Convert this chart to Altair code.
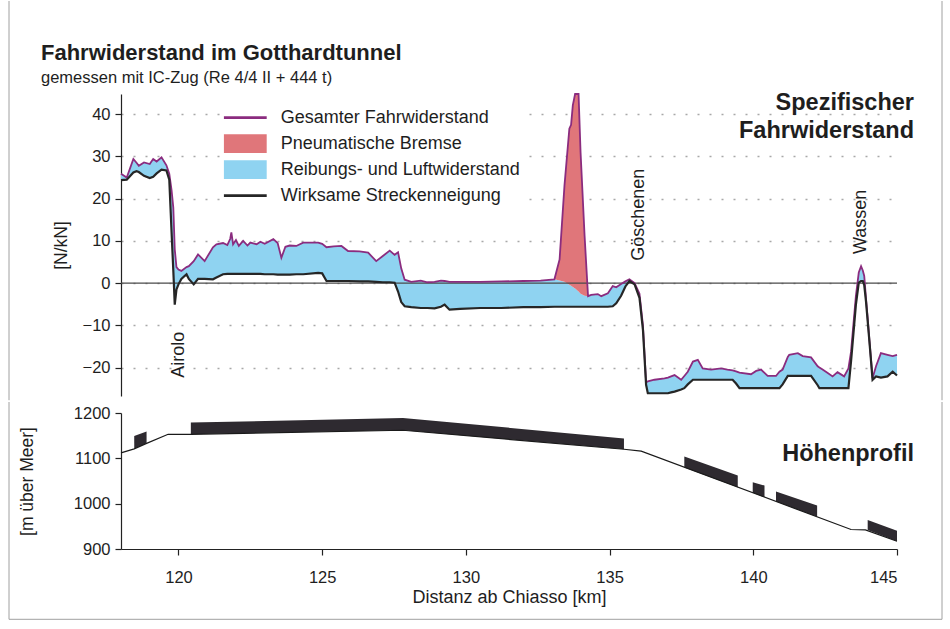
import altair as alt
import pandas as pd

FONT = "Liberation Sans"
INK = "#1e1e1e"

# Spezifischer Fahrwiderstand [N/kN] entlang der Strecke (Distanz ab Chiasso [km])
km = [118.0, 118.2, 118.43, 118.54, 118.62, 118.8, 119.0, 119.12, 119.24, 119.41,
      119.58, 119.68, 119.76, 119.82, 119.87, 119.93, 120.0, 120.1, 120.28, 120.36,
      120.53, 120.68, 120.91, 121.2, 121.32, 121.55, 121.7, 121.8, 121.84, 121.9,
      122.0, 122.1, 122.25, 122.4, 122.5, 122.72, 122.85, 123.0, 123.3, 123.45,
      123.58, 123.72, 123.87, 124.1, 124.34, 124.86, 125.0, 125.15, 125.4, 125.67,
      125.9, 126.3, 126.6, 126.88, 127.11, 127.35, 127.52, 127.64, 127.75, 127.87,
      128.1, 128.43, 128.66, 128.91, 129.13, 129.26, 129.43, 129.8, 130.5, 131.23,
      132.0, 132.6, 133.08, 133.26, 133.43, 133.6, 133.66, 133.72, 133.8, 133.92,
      133.99, 134.13, 134.25, 134.36, 134.59, 134.71, 134.94, 135.11, 135.23, 135.4,
      135.55, 135.69, 135.87, 136.04, 136.16, 136.27, 136.33, 136.56, 136.91, 137.03,
      137.14, 137.26, 137.49, 137.6, 137.72, 137.9, 138.07, 138.24, 138.53, 138.88,
      139.1, 139.28, 139.4, 139.52, 139.92, 140.1, 140.27, 140.5, 140.79, 140.91,
      141.02, 141.2, 141.25, 141.55, 141.72, 142.01, 142.24, 142.3, 142.41, 142.59,
      142.76, 142.93, 143.16, 143.31, 143.4, 143.57, 143.67, 143.75, 143.81, 143.86,
      143.92, 143.98, 144.04, 144.15, 144.27, 144.44, 144.67, 144.85, 145.0]

# Wirksame Streckenneigung
streckenneigung = [24.4, 24.5, 26.2, 26.5, 26.3, 25.4, 24.9, 25.2, 26.0, 26.9,
                   26.7, 24.5, 12.0, 3.0, -5.1, -1.5, -0.3, 1.0, 2.1, 1.0,
                   -0.3, 1.0, 1.0, 0.9, 1.3, 2.1, 2.2, 2.2, 2.2, 2.2,
                   2.2, 2.2, 2.2, 2.2, 2.2, 2.2, 2.2, 2.1, 2.1, 2.0,
                   2.0, 2.0, 2.0, 2.1, 2.1, 2.4, 2.3, 0.5, 0.5, 0.5,
                   0.5, 0.4, 0.4, 0.3, 0.2, 0.2, 0.1, -2.0, -4.5, -5.5,
                   -5.7, -5.9, -5.9, -6.0, -5.6, -5.1, -6.3, -6.1, -5.9, -5.9,
                   -5.7, -5.7, -5.6, -5.6, -5.6, -5.6, -5.6, -5.6, -5.6, -5.6,
                   -5.6, -5.6, -5.6, -5.6, -5.6, -5.6, -5.6, -5.5, -4.8, -3.0,
                   -0.8, 0.5, -0.3, -3.5, -11.0, -24.1, -26.1, -26.1, -26.1, -26.1,
                   -25.9, -25.7, -25.2, -24.9, -24.0, -22.9, -22.9, -22.9, -22.9, -22.9,
                   -22.9, -22.9, -23.8, -24.9, -24.9, -24.9, -24.9, -24.9, -24.9, -24.9,
                   -24.0, -22.0, -22.0, -22.0, -22.0, -22.0, -24.2, -24.9, -24.9, -24.9,
                   -24.9, -24.9, -24.9, -24.9, -18.6, -5.1, 0.1, 0.5, 0.5, -0.5,
                   -4.3, -9.0, -13.8, -22.9, -22.1, -22.4, -22.1, -21.0, -21.9]

# Streckenneigung + Reibungs- und Luftwiderstand (ohne Bremsanteil)
ohne_bremse = [25.9, 25.0, 29.4, 28.5, 27.8, 28.6, 28.2, 29.4, 28.8, 29.8,
               27.9, 25.9, 22.0, 17.9, 8.0, 3.8, 3.2, 2.9, 3.8, 4.0,
               5.2, 6.8, 5.2, 8.5, 9.2, 9.5, 9.0, 10.5, 12.0, 9.2,
               10.2, 8.8, 10.0, 8.9, 9.6, 9.2, 9.8, 9.3, 10.4, 9.5,
               6.0, 8.6, 8.9, 8.8, 9.6, 9.6, 9.3, 8.5, 8.7, 8.8,
               7.6, 7.5, 7.2, 5.2, 6.4, 7.7, 6.7, 7.3, 3.5, 0.8,
               0.3, 0.6, 0.2, 0.3, 0.6, 0.5, 0.3, 0.3, 0.3, 0.4,
               0.5, 0.6, 0.9, 0.6, 0.3, -0.4, -0.6, -0.9, -1.3, -2.0,
               -2.5, -3.0, -3.1, -2.8, -2.6, -3.1, -2.4, -0.7, -1.0, -0.2,
               0.4, 0.9, 0.0, -2.5, -10.0, -23.5, -23.3, -22.9, -22.6, -22.4,
               -22.1, -21.8, -22.9, -22.0, -21.0, -18.6, -18.2, -20.2, -20.5, -20.2,
               -20.5, -20.7, -20.9, -21.2, -21.6, -20.8, -20.5, -22.0, -22.0, -21.0,
               -20.5, -17.5, -17.0, -16.6, -17.3, -17.6, -19.7, -20.0, -20.5, -21.3,
               -22.1, -21.1, -22.1, -20.2, -16.3, -3.0, 2.5, 4.0, 3.0, 1.7,
               -3.5, -8.3, -13.5, -22.5, -19.7, -16.6, -17.0, -17.3, -17.0]

# Gesamter Fahrwiderstand (inkl. pneumatische Bremse)
gesamt = [25.9, 25.0, 29.4, 28.5, 27.8, 28.6, 28.2, 29.4, 28.8, 29.8,
          27.9, 25.9, 22.0, 17.9, 8.0, 3.8, 3.2, 2.9, 3.8, 4.0,
          5.2, 6.8, 5.2, 8.5, 9.2, 9.5, 9.0, 10.5, 12.0, 9.2,
          10.2, 8.8, 10.0, 8.9, 9.6, 9.2, 9.8, 9.3, 10.4, 9.5,
          6.0, 8.6, 8.9, 8.8, 9.6, 9.6, 9.3, 8.5, 8.7, 8.8,
          7.6, 7.5, 7.2, 5.2, 6.4, 7.7, 6.7, 7.3, 3.5, 0.8,
          0.3, 0.6, 0.2, 0.3, 0.6, 0.5, 0.3, 0.3, 0.3, 0.4,
          0.5, 0.6, 0.9, 5.6, 23.1, 36.6, 37.5, 42.1, 44.8, 44.8,
          31.0, 11.2, -3.1, -2.8, -2.6, -3.1, -2.4, -0.7, -1.0, -0.2,
          0.4, 0.9, 0.0, -2.5, -10.0, -23.5, -23.3, -22.9, -22.6, -22.4,
          -22.1, -21.8, -22.9, -22.0, -21.0, -18.6, -18.2, -20.2, -20.5, -20.2,
          -20.5, -20.7, -20.9, -21.2, -21.6, -20.8, -20.5, -22.0, -22.0, -21.0,
          -20.5, -17.5, -17.0, -16.6, -17.3, -17.6, -19.7, -20.0, -20.5, -21.3,
          -22.1, -21.1, -22.1, -20.2, -16.3, -3.0, 2.5, 4.0, 3.0, 1.7,
          -3.5, -8.3, -13.5, -22.5, -19.7, -16.6, -17.0, -17.3, -17.0]

# Höhenprofil: Gleislage [m über Meer]
gleis_km = [118.0, 118.46, 118.89, 119.64, 120.39, 120.43, 127.81, 135.5, 136.1, 143.4, 143.9, 145.0]
gleis_hoehe = [1112, 1121, 1133, 1153, 1153, 1153, 1162, 1120, 1116, 943, 942, 917]

# Tunnelabschnitte: Sohle und Scheitel
tunnel_id = ["T1", "T1", "T2", "T2", "T2", "T3", "T3", "T4", "T4", "T5", "T5", "T6", "T6"]
tunnel_km = [118.46, 118.89, 120.43, 127.81, 135.5, 137.6, 139.46, 139.98, 140.39, 140.79, 142.22, 143.98, 145.0]
tunnel_sohle = [1121, 1133, 1153, 1162, 1120, 1080, 1036, 1024, 1014, 1005, 971, 942, 917]
tunnel_scheitel = [1149, 1159, 1179, 1189, 1144, 1104, 1062, 1047, 1040, 1027, 996, 964, 940]

# Bahnhöfe
stationen = ["Airolo", "Göschenen", "Wassen"]
station_km = [120.02, 136.04, 143.74]
station_wert = [-22.4, 5.3, 6.9]

# Legende
reihen = ["Gesamter Fahrwiderstand", "Pneumatische Bremse",
          "Reibungs- und Luftwiderstand", "Wirksame Streckenneigung"]
farben = ["#8b2c7f", "#e0767a", "#8fd3f1", "#262626"]
LINE_SYM = "M-1,-0.06H1V0.06H-1Z"
RECT_SYM = "M-1,-0.44H1V0.44H-1Z"
symbole = [LINE_SYM, RECT_SYM, RECT_SYM, LINE_SYM]

ticks_x = [120, 125, 130, 135, 140, 145]
ticks_top = [-20, -10, 0, 10, 20, 30, 40]
ticks_bottom = [900, 1000, 1100, 1200]

W = 776
H_TOP = 302
H_BOT = 136

mess = pd.DataFrame({"km": km, "neigung": streckenneigung,
                     "ohne_bremse": ohne_bremse, "gesamt": gesamt})
gleis = pd.DataFrame({"km": gleis_km, "hoehe": gleis_hoehe})
tunnel = pd.DataFrame({"tunnel": tunnel_id, "km": tunnel_km,
                       "sohle": tunnel_sohle, "scheitel": tunnel_scheitel})
orte = pd.DataFrame({"name": stationen, "km": station_km, "wert": station_wert})
leg = pd.DataFrame({"reihe": reihen, "km": [None] * 4, "wert": [None] * 4})
one = pd.DataFrame({"k": [0]})
null_line = pd.DataFrame({"wert": [0]})

x_scale = alt.Scale(domain=[118, 145], nice=False, zero=False)
top_scale = alt.Scale(domain=[-26.75, 44.8], nice=False, zero=False)
bot_scale = alt.Scale(domain=[900, 1200], nice=False, zero=False)

axis_top = alt.Axis(values=ticks_top, title="[N/kN]", tickSize=6, labelPadding=5,
                    titlePadding=12, grid=True, gridDash=[2, 10], gridColor="#a8a8a8",
                    gridWidth=1.4, format="d")
axis_bot = alt.Axis(values=ticks_bottom, title="[m über Meer]", tickSize=6,
                    labelPadding=5, titlePadding=37, grid=False, format="d")
axis_x = alt.Axis(values=ticks_x, title="Distanz ab Chiasso [km]", tickSize=6,
                  labelPadding=14, titlePadding=3, grid=False, format="d")


def xq(field="km"):
    return alt.X(field, type="quantitative", scale=x_scale, axis=None)


def yt(field):
    return alt.Y(field, type="quantitative", scale=top_scale, axis=axis_top)


def text_at(text, x, y, size, weight="normal", align="left"):
    return alt.Chart(one).mark_text(
        text=text, font=FONT, fontSize=size, fontWeight=weight, align=align,
        baseline="alphabetic", color=INK
    ).encode(x=alt.value(x), y=alt.value(y))


def rule_at(x, y, x2=None, y2=None):
    enc = dict(x=alt.value(x), y=alt.value(y))
    if x2 is not None:
        enc["x2"] = alt.value(x2)
    if y2 is not None:
        enc["y2"] = alt.value(y2)
    return alt.Chart(one).mark_rule(color="#a0a0a0", strokeWidth=1).encode(**enc)


legend_opts = dict(title=None, orient="none", legendX=102.7, legendY=10.7,
                   symbolSize=1849, clipHeight=25.8, rowPadding=0,
                   labelOffset=14, padding=0, fillColor="white",
                   labelFont=FONT, labelFontSize=18, labelColor=INK,
                   labelLimit=0, symbolStrokeWidth=0)

# --- oberes Diagramm: spezifischer Fahrwiderstand
reibung = alt.Chart(mess).mark_area(color=farben[2], opacity=1).encode(
    x=xq(), y=yt("neigung"), y2="ohne_bremse")
bremse = alt.Chart(mess).mark_area(color=farben[1], opacity=1).encode(
    x=xq(), y=yt("ohne_bremse"), y2="gesamt")
nulllinie = alt.Chart(null_line).mark_rule(color="#4a4a4a", strokeWidth=1.2).encode(
    y=yt("wert"))
total = alt.Chart(mess).mark_line(color=farben[0], strokeWidth=1.8).encode(
    x=xq(), y=yt("gesamt"))
neigung = alt.Chart(mess).mark_line(color=farben[3], strokeWidth=2.2).encode(
    x=xq(), y=yt("neigung"))
orte_text = alt.Chart(orte).mark_text(
    font=FONT, fontSize=18, angle=270, align="left", baseline="middle", color=INK
).encode(x=xq(), y=yt("wert"), text="name:N")

legende = alt.Chart(leg).mark_point(filled=True, opacity=1, size=10).encode(
    x=xq(), y=yt("wert"),
    color=alt.Color("reihe:N", scale=alt.Scale(domain=reihen, range=farben),
                    legend=alt.Legend(**legend_opts)),
    shape=alt.Shape("reihe:N", scale=alt.Scale(domain=reihen, range=symbole),
                    legend=alt.Legend(**legend_opts)),
)

oben = alt.layer(
    reibung, bremse, nulllinie, total, neigung, orte_text, legende,
    text_at("Fahrwiderstand im Gotthardtunnel", -80, -34, 22, "bold"),
    text_at("gemessen mit IC-Zug (Re 4/4 II + 444 t)", -80, -11, 16.5),
    text_at("Spezifischer", 793, 16.3, 23.5, "bold", "right"),
    text_at("Fahrwiderstand", 793, 43.7, 23.5, "bold", "right"),
    rule_at(-112, -93, y2=H_TOP + 4.2),
    rule_at(W + 45, -93, y2=H_TOP + 4.2),
).properties(width=W, height=H_TOP)

# --- unteres Diagramm: Höhenprofil
tunnel_flaeche = alt.Chart(tunnel).mark_area(color="#2e2a30", opacity=1).encode(
    x=alt.X("km", type="quantitative", scale=x_scale, axis=axis_x),
    y=alt.Y("sohle", type="quantitative", scale=bot_scale, axis=axis_bot),
    y2="scheitel", detail="tunnel:N")
gleis_linie = alt.Chart(gleis).mark_line(color="#1a1a1a", strokeWidth=1.2).encode(
    x=alt.X("km", type="quantitative", scale=x_scale, axis=axis_x),
    y=alt.Y("hoehe", type="quantitative", scale=bot_scale, axis=axis_bot))

unten = alt.layer(
    tunnel_flaeche, gleis_linie,
    text_at("Höhenprofil", 793, 48.3, 23.5, "bold", "right"),
    rule_at(-112, -11, y2=206.3),
    rule_at(W + 45, -11, y2=206.3),
    rule_at(-112, 206.3, x2=W + 45),
).properties(width=W, height=H_BOT)

chart = alt.vconcat(oben, unten, spacing=0).properties(
    padding={"left": 8, "top": 0, "right": 4, "bottom": 4}
).configure_view(stroke=None).configure_axis(
    labelFont=FONT, labelFontSize=16.5, labelColor=INK,
    titleFont=FONT, titleFontSize=17.5, titleFontWeight="normal", titleColor=INK,
    domainColor="#222222", tickColor="#222222", domainWidth=1.2, tickWidth=1.2
).configure_axisX(titleFontSize=18)

chart.save("out.html", embed_options={"renderer": "svg", "actions": False})
